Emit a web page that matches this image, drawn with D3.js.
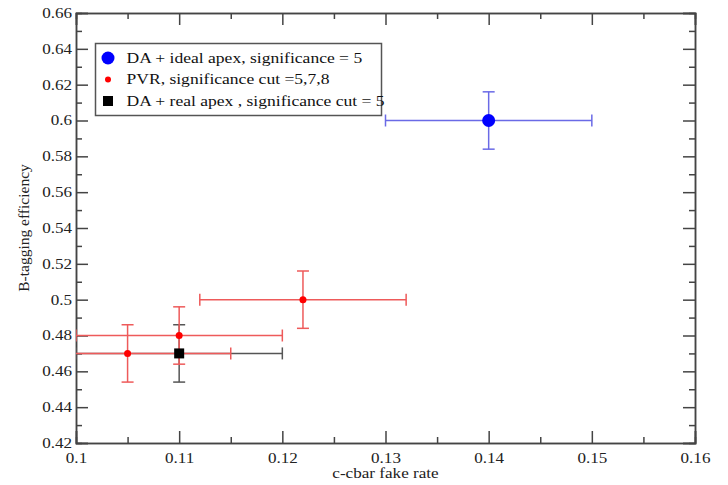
<!DOCTYPE html>
<html>
<head>
<meta charset="utf-8">
<script src="https://cdn.jsdelivr.net/npm/d3@7"></script>
<style>
  body { margin: 0; background: #fff; }
</style>
</head>
<body>
<div id="vis"></div>
<script>
// series: DA + ideal apex
var idealX = [0.14];
var idealY = [0.60];
var idealXErr = [0.01];
var idealYErr = [0.016];

// series: PVR
var pvrX = [0.105, 0.11, 0.122];
var pvrY = [0.47, 0.48, 0.50];
var pvrXErr = [0.01, 0.01, 0.01];
var pvrYErr = [0.016, 0.016, 0.016];

// series: DA + real apex
var realX = [0.11];
var realY = [0.47];
var realXErr = [0.01];
var realYErr = [0.016];

var xTicks = [0.1, 0.11, 0.12, 0.13, 0.14, 0.15, 0.16];
var yTicks = [0.42, 0.44, 0.46, 0.48, 0.5, 0.52, 0.54, 0.56, 0.58, 0.6, 0.62, 0.64, 0.66];

var legendLabels = [
    'DA + ideal apex, significance = 5',
    'PVR, significance cut =5,7,8',
    'DA + real apex , significance cut = 5'
];

var width = 728;
var height = 485;
var margin = { left: 76, right: 33, top: 13, bottom: 42 };
var serif = '"Liberation Serif", "Times New Roman", serif';

var x = d3.scaleLinear().domain([0.1, 0.16]).range([margin.left, width - margin.right]);
var y = d3.scaleLinear().domain([0.42, 0.66]).range([height - margin.bottom, margin.top]);

var svg = d3.select('#vis')
    .append('svg')
    .attr('width', width)
    .attr('height', height);

var fmt = (v) => String(+v.toFixed(3));

// the original picture is a bit wider than tall, so text gets stretched sideways
function stretch(sel, k) {
    sel.each(function () {
        var len = this.getComputedTextLength();
        d3.select(this)
            .attr('textLength', len * k)
            .attr('lengthAdjust', 'spacingAndGlyphs');
    });
}

// minor ticks half way between majors
function minors(ticks) {
    var out = [];
    for (var i = 0; i < ticks.length - 1; i++) out.push((ticks[i] + ticks[i + 1]) / 2);
    return out;
}

var axisColor = '#444';
var major = 12, minor = 6;

// bottom / top axes, ticks inward
var xAxis = svg.append('g')
    .attr('transform', 'translate(0,' + y.range()[0] + ')')
    .call(d3.axisBottom(x).tickValues(xTicks).tickSize(-major).tickFormat(fmt).tickPadding(10));
svg.append('g')
    .attr('transform', 'translate(0,' + y.range()[0] + ')')
    .call(d3.axisBottom(x).tickValues(minors(xTicks)).tickSize(-minor).tickFormat(''));
svg.append('g')
    .attr('transform', 'translate(0,' + y.range()[1] + ')')
    .call(d3.axisTop(x).tickValues(xTicks).tickSize(-major).tickFormat(''));
svg.append('g')
    .attr('transform', 'translate(0,' + y.range()[1] + ')')
    .call(d3.axisTop(x).tickValues(minors(xTicks)).tickSize(-minor).tickFormat(''));

// left / right axes
var yAxis = svg.append('g')
    .attr('transform', 'translate(' + x.range()[0] + ',0)')
    .call(d3.axisLeft(y).tickValues(yTicks).tickSize(-major).tickFormat(fmt).tickPadding(4));
svg.append('g')
    .attr('transform', 'translate(' + x.range()[0] + ',0)')
    .call(d3.axisLeft(y).tickValues(minors(yTicks)).tickSize(-minor).tickFormat(''));
svg.append('g')
    .attr('transform', 'translate(' + x.range()[1] + ',0)')
    .call(d3.axisRight(y).tickValues(yTicks).tickSize(-major).tickFormat(''));
svg.append('g')
    .attr('transform', 'translate(' + x.range()[1] + ',0)')
    .call(d3.axisRight(y).tickValues(minors(yTicks)).tickSize(-minor).tickFormat(''));

svg.selectAll('.domain, .tick line')
    .attr('stroke', axisColor)
    .attr('stroke-width', 1.5);
svg.selectAll('.tick text')
    .attr('fill', '#222')
    .style('font-family', serif)
    .style('font-size', '14px');
stretch(xAxis.selectAll('.tick text'), 1.22);
stretch(yAxis.selectAll('.tick text'), 1.22);

// axis titles
var xTitle = svg.append('text')
    .attr('x', (x.range()[0] + x.range()[1]) / 2)
    .attr('y', 478)
    .attr('text-anchor', 'middle')
    .style('font-family', serif)
    .style('font-size', '14.5px')
    .attr('fill', '#222')
    .text('c-cbar fake rate');
stretch(xTitle, 1.18);
svg.append('text')
    .attr('transform', 'translate(29,' + (y.range()[0] + y.range()[1]) / 2 + ') rotate(-90)')
    .attr('text-anchor', 'middle')
    .style('font-family', serif)
    .style('font-size', '15.5px')
    .attr('fill', '#222')
    .text('B-tagging efficiency');

// clip for error bars
svg.append('clipPath').attr('id', 'plotclip')
    .append('rect')
    .attr('x', x.range()[0]).attr('y', y.range()[1])
    .attr('width', x.range()[1] - x.range()[0])
    .attr('height', y.range()[0] - y.range()[1]);

var plot = svg.append('g').attr('clip-path', 'url(#plotclip)');

function toPoints(xs, ys, xe, ye) {
    return xs.map((v, i) => ({ x: v, y: ys[i], xe: xe[i], ye: ye[i] }));
}

var capHalf = 6;

function errorBars(data, color) {
    var g = plot.append('g')
        .attr('stroke', color)
        .attr('stroke-width', 1.5)
        .attr('fill', 'none');
    var e = g.selectAll('g').data(data).enter().append('g');
    e.append('line')
        .attr('x1', d => x(d.x - d.xe)).attr('x2', d => x(d.x + d.xe))
        .attr('y1', d => y(d.y)).attr('y2', d => y(d.y));
    e.append('line')
        .attr('x1', d => x(d.x)).attr('x2', d => x(d.x))
        .attr('y1', d => y(d.y - d.ye)).attr('y2', d => y(d.y + d.ye));
    // caps
    e.append('line')
        .attr('x1', d => x(d.x - d.xe)).attr('x2', d => x(d.x - d.xe))
        .attr('y1', d => y(d.y) - capHalf).attr('y2', d => y(d.y) + capHalf);
    e.append('line')
        .attr('x1', d => x(d.x + d.xe)).attr('x2', d => x(d.x + d.xe))
        .attr('y1', d => y(d.y) - capHalf).attr('y2', d => y(d.y) + capHalf);
    e.append('line')
        .attr('x1', d => x(d.x) - capHalf).attr('x2', d => x(d.x) + capHalf)
        .attr('y1', d => y(d.y - d.ye)).attr('y2', d => y(d.y - d.ye));
    e.append('line')
        .attr('x1', d => x(d.x) - capHalf).attr('x2', d => x(d.x) + capHalf)
        .attr('y1', d => y(d.y + d.ye)).attr('y2', d => y(d.y + d.ye));
}

var ideal = toPoints(idealX, idealY, idealXErr, idealYErr);
var pvr = toPoints(pvrX, pvrY, pvrXErr, pvrYErr);
var real = toPoints(realX, realY, realXErr, realYErr);

errorBars(real, '#555');
errorBars(pvr, '#ee5a5a');
errorBars(ideal, '#6a6ae6');

plot.selectAll('.ideal').data(ideal).enter().append('circle')
    .attr('cx', d => x(d.x)).attr('cy', d => y(d.y)).attr('r', 6.5)
    .attr('fill', '#0000ff');
plot.selectAll('.pvr').data(pvr).enter().append('circle')
    .attr('cx', d => x(d.x)).attr('cy', d => y(d.y)).attr('r', 3.5)
    .attr('fill', '#ff0000');
plot.selectAll('.real').data(real).enter().append('rect')
    .attr('x', d => x(d.x) - 5).attr('y', d => y(d.y) - 5)
    .attr('width', 10).attr('height', 10)
    .attr('fill', '#000');

// legend
var legend = svg.append('g');
legend.append('rect')
    .attr('x', 95.5).attr('y', 43.5)
    .attr('width', 286).attr('height', 72)
    .attr('fill', '#fff')
    .attr('stroke', '#555')
    .attr('stroke-width', 1.5);
var rows = legend.selectAll('.row').data(legendLabels).enter().append('g')
    .attr('transform', (d, i) => 'translate(108,' + (58 + i * 21.5) + ')');
var labels = rows.append('text')
    .attr('x', 18.5).attr('dy', '0.33em')
    .style('font-family', serif)
    .style('font-size', '15px')
    .attr('fill', '#111')
    .text(d => d);
stretch(labels, 1.17);
rows.filter((d, i) => i === 0).append('circle').attr('r', 6.5).attr('fill', '#0000ff');
rows.filter((d, i) => i === 1).append('circle').attr('r', 3).attr('fill', '#ff0000');
rows.filter((d, i) => i === 2).append('rect')
    .attr('x', -5).attr('y', -5).attr('width', 10).attr('height', 10).attr('fill', '#000');
</script>
</body>
</html>
